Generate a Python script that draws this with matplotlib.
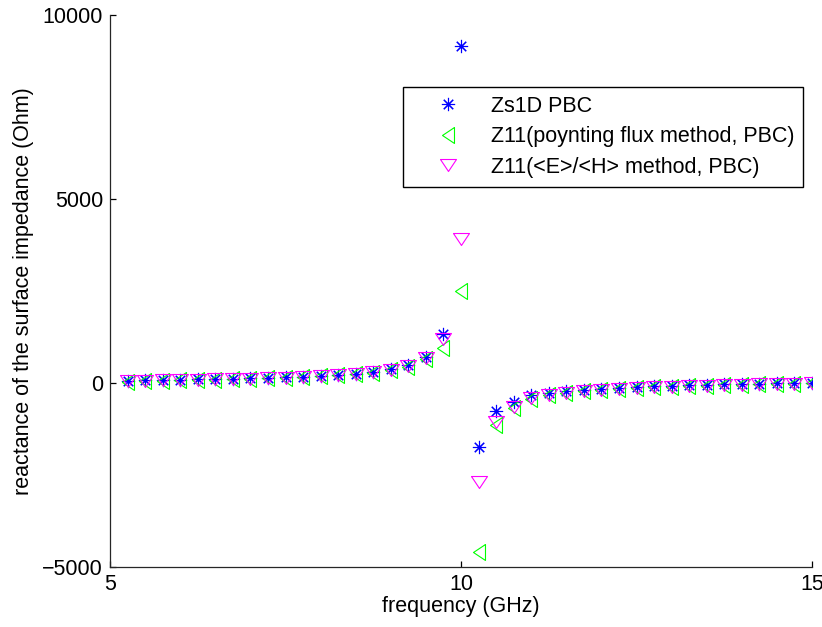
import matplotlib
matplotlib.use('Agg')
import matplotlib.pyplot as plt

plt.rcParams['font.family'] = ['Liberation Sans', 'DejaVu Sans']

# frequency points (GHz)
freq = [5.25, 5.5, 5.75, 6.0, 6.25, 6.5, 6.75, 7.0, 7.25, 7.5,
        7.75, 8.0, 8.25, 8.5, 8.75, 9.0, 9.25, 9.5, 9.75, 10.0,
        10.25, 10.5, 10.75, 11.0, 11.25, 11.5, 11.75, 12.0, 12.25, 12.5,
        12.75, 13.0, 13.25, 13.5, 13.75, 14.0, 14.25, 14.5, 14.75, 15.0]

# reactance (Ohm)
zs1d_pbc = [55, 70, 75, 88, 100, 105, 115, 127, 142, 155,
            172, 198, 225, 255, 300, 372, 480, 700, 1320, 9150,
            -1740, -760, -508, -326, -264, -209, -182, -155, -128, -109,
            -90, -73, -63, -46, -36, -27, -19, -9, 0, 9]
z11_poynting = [40, 55, 60, 72, 85, 90, 100, 110, 125, 138,
                155, 178, 205, 232, 272, 340, 440, 640, 950, 2500,
                -4600, -1140, -680, -430, -330, -265, -225, -195, -165, -140,
                -120, -100, -88, -70, -58, -48, -38, -28, -18, -10]
z11_eh = [50, 65, 70, 82, 95, 100, 110, 120, 135, 148,
          165, 190, 215, 245, 288, 358, 465, 680, 1200, 3900,
          -2700, -1050, -640, -420, -320, -260, -225, -195, -165, -140,
          -120, -100, -88, -72, -60, -48, -38, -28, -18, -10]

labels = ['Zs1D PBC', 'Z11(poynting flux method, PBC)', 'Z11(<E>/<H> method, PBC)']

# MATLAB-like triangle shapes (a bit flatter than matplotlib's)
tri_left = [(0.75, 1), (0.75, -1), (-0.75, 0), (0.75, 1)]
tri_down = [(-1, 0.75), (1, 0.75), (0, -0.75), (-1, 0.75)]

fig = plt.figure(figsize=(8.22, 6.27), dpi=100, facecolor='white')
ax = fig.add_axes([110 / 822, 60 / 627, 702 / 822, 552 / 627])

ax.plot(freq, zs1d_pbc, linestyle='none', marker=(8, 2, 0), markersize=9.5,
        markeredgecolor='#0000FF', markeredgewidth=0.8, label=labels[0])
ax.plot(freq, z11_poynting, linestyle='none', marker=tri_left, markersize=11.5,
        markerfacecolor='none', markeredgecolor='#00FF00', markeredgewidth=0.8,
        label=labels[1])
ax.plot(freq, z11_eh, linestyle='none', marker=tri_down, markersize=11.5,
        markerfacecolor='none', markeredgecolor='#FF00FF', markeredgewidth=0.8,
        label=labels[2])

ax.set_xlim(5, 15)
ax.set_ylim(-5000, 10000)
ax.set_xticks([5, 10, 15])
ax.set_yticks([-5000, 0, 5000, 10000])
ax.set_yticklabels(['\u22125000', '0', '5000', '10000'])

for s in ['top', 'right']:
    ax.spines[s].set_visible(False)
for s in ['left', 'bottom']:
    ax.spines[s].set_color('#262626')
    ax.spines[s].set_linewidth(0.9)

ax.tick_params(direction='in', length=4, width=0.9, labelsize=15.5,
               colors='black', pad=5)
ax.set_xlabel('frequency (GHz)', fontsize=15.5, labelpad=1)
ax.set_ylabel('reactance of the surface impedance (Ohm)', fontsize=15.5, labelpad=6)

leg = ax.legend(loc='upper left', bbox_to_anchor=(403 / 822, 1 - 87 / 627),
                bbox_transform=fig.transFigure, fontsize=15.5, fancybox=False,
                framealpha=1, edgecolor='black', handlelength=3.4,
                handletextpad=0.3, borderpad=0.4, labelspacing=0.45,
                borderaxespad=0)
leg.get_frame().set_linewidth(1.0)

plt.savefig('out.png', dpi=100, facecolor='white')
plt.close(fig)
